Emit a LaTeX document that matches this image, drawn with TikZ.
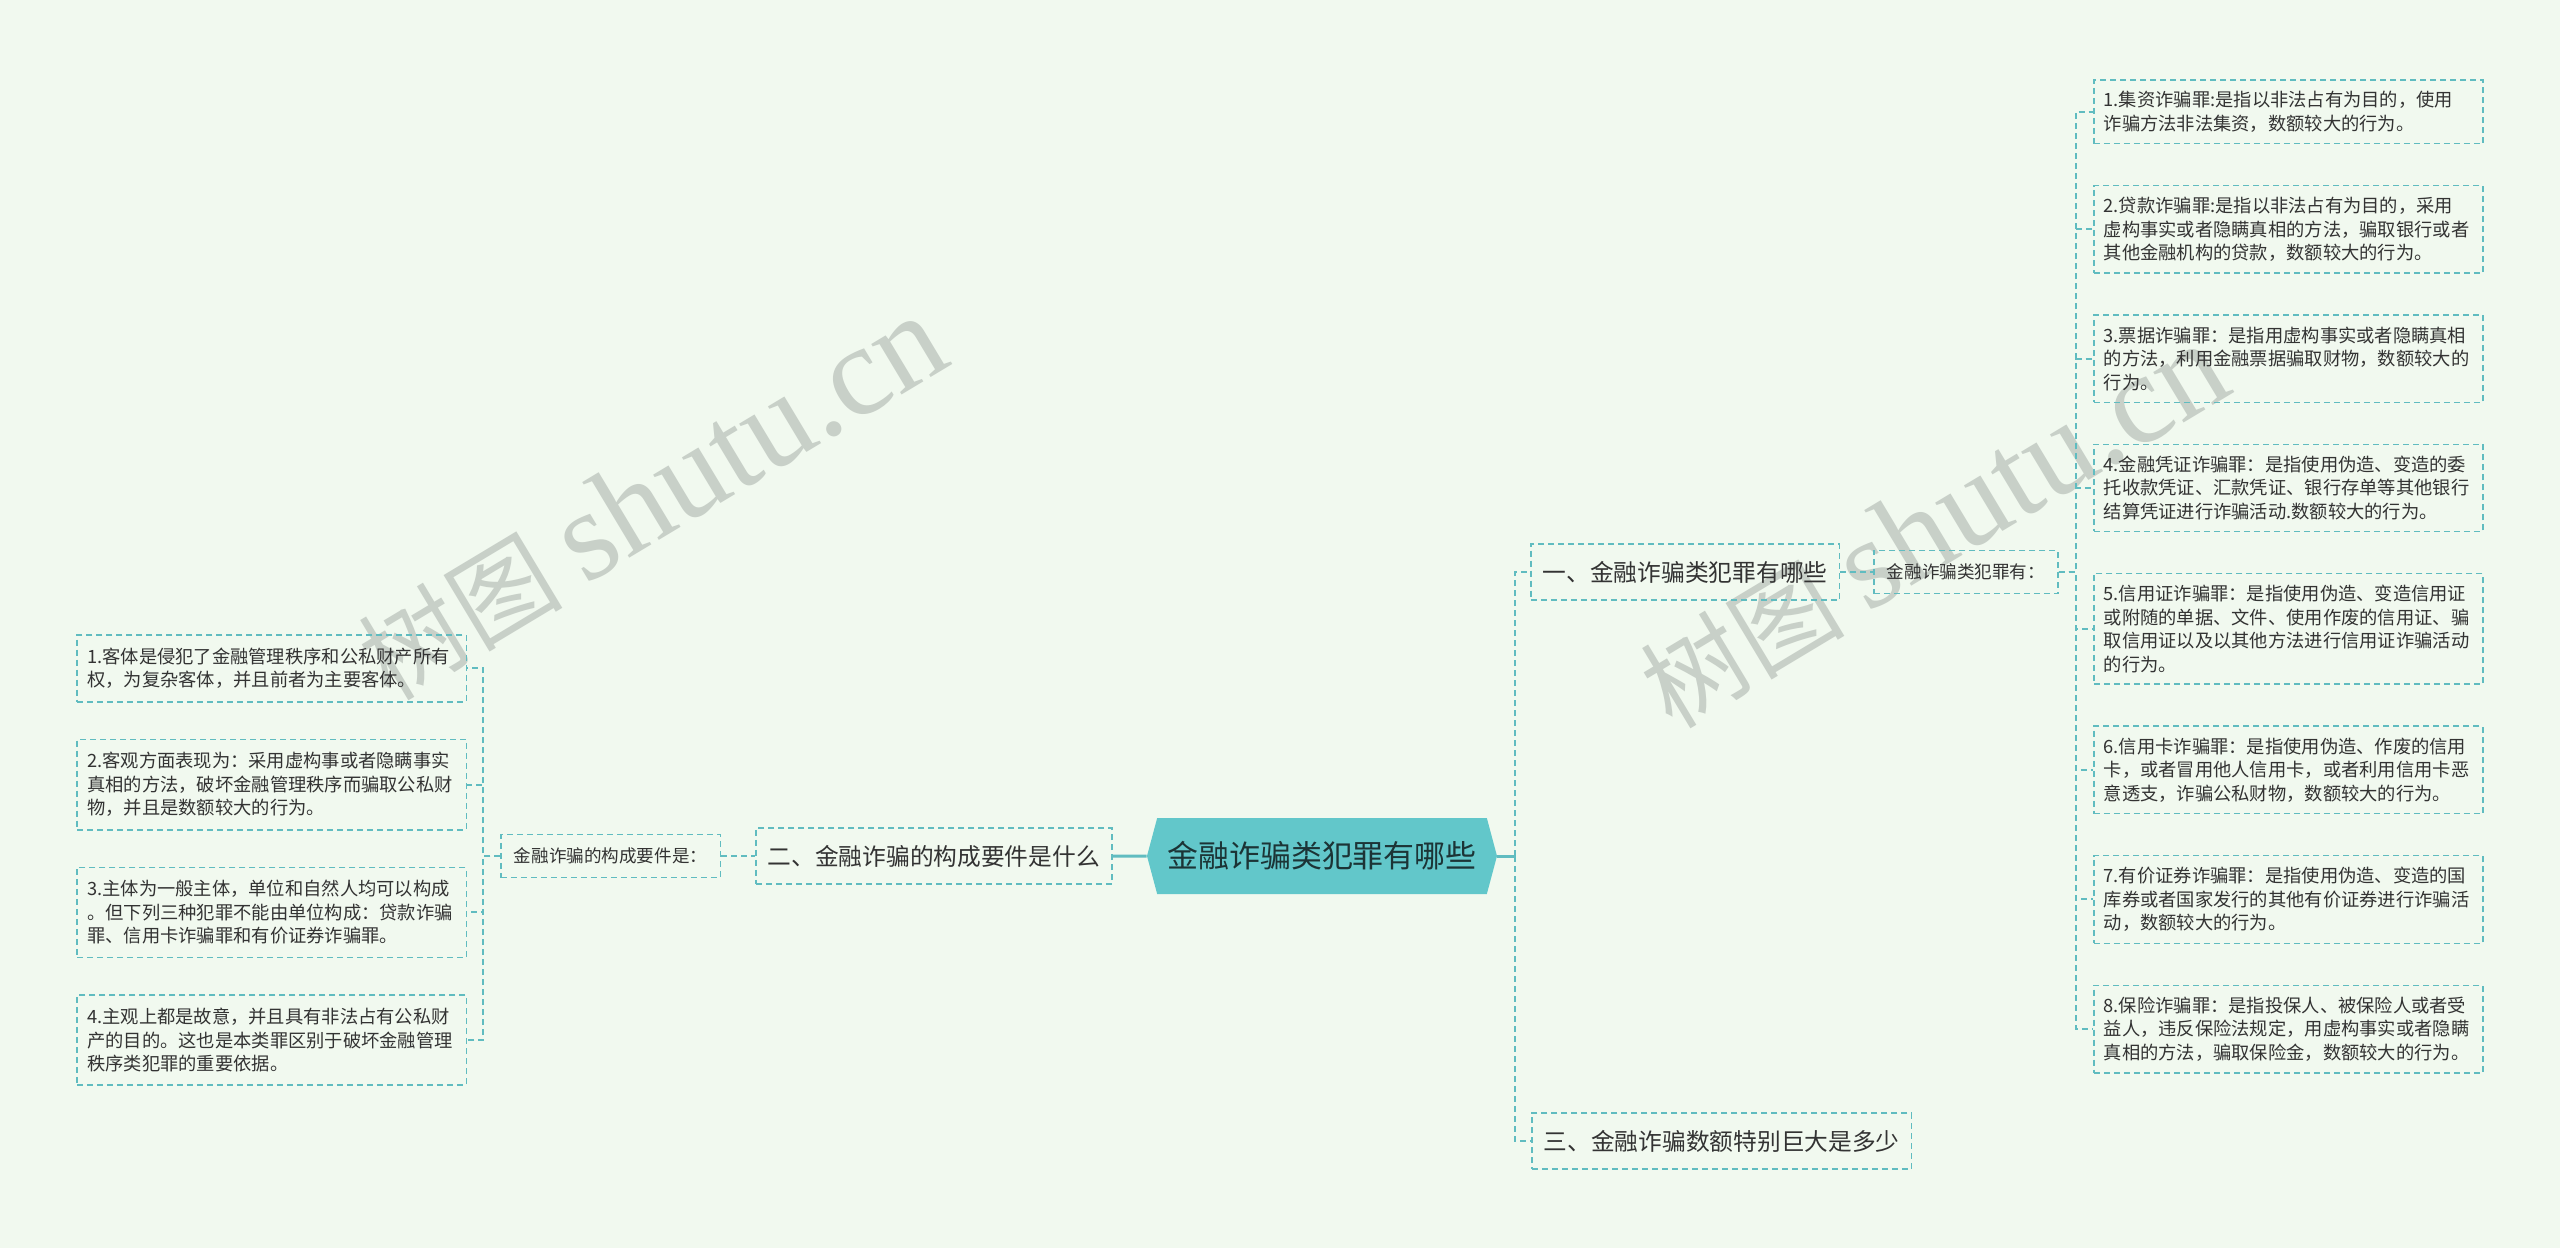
\documentclass[tikz,border=0pt]{standalone}
\usepackage{fontspec}
\newfontfamily\cjk{Noto Sans CJK SC}
\newfontfamily\wmserif{Liberation Serif}
\usepackage{tikz}
\usetikzlibrary{positioning,shapes.symbols}
\definecolor{bgc}{RGB}{241,249,239}
\definecolor{linkc}{RGB}{96,188,192}
\definecolor{rootfill}{RGB}{98,199,202}
\definecolor{rootink}{RGB}{28,52,54}
\definecolor{inkc}{RGB}{51,51,51}
\definecolor{wmc}{RGB}{200,208,200}

\begin{document}
\begin{tikzpicture}[
    x=0.2mm, y=-0.2mm,
    node distance=6.8mm and 6.8mm,
    root/.style={signal, signal to=west and east, signal pointer angle=150, fill=rootfill, text=rootink, minimum width=70mm, minimum height=15.2mm, inner sep=0pt, font=\cjk\fontsize{17.6}{20}\selectfont},
    topic/.style={draw=linkc, line width=0.3mm, dash pattern=on 1.2mm off 0.8mm, text=inkc, minimum height=11.2mm, inner xsep=2.4mm, font=\cjk\fontsize{13.5}{16}\selectfont},
    sub/.style={draw=linkc, line width=0.3mm, dash pattern=on 1.2mm off 0.8mm, text=inkc, minimum height=8.6mm, inner xsep=2.6mm, font=\cjk\fontsize{10}{12}\selectfont},
    leaf/.style={draw=linkc, line width=0.3mm, dash pattern=on 1.2mm off 0.8mm, text=inkc, text width=73.8mm, align=left, inner xsep=2mm, inner ysep=2.3mm, font=\cjk\fontsize{10.4}{13.4}\selectfont},
    leafl/.style={leaf, inner ysep=2.6mm},
    link/.style={draw=linkc, line width=0.4mm, dash pattern=on 1.2mm off 0.8mm},
    trunk/.style={draw=linkc, line width=0.6mm},
    wmark/.style={text=wmc, inner sep=0pt, rotate=31}
]
\useasboundingbox (0,0) rectangle (2560,1248);
\fill[bgc] (0,0) rectangle (2560,1248);

% watermarks
\node[wmark] (wm1) at (652,498) {\cjk\fontsize{58}{58}\selectfont 树图\ \wmserif\fontsize{73}{73}\selectfont shutu.cn};
\node[wmark] (wm2) at (1934,526) {\cjk\fontsize{58}{58}\selectfont 树图\ \wmserif\fontsize{73}{73}\selectfont shutu.cn};

% root
\node[root] (ctr) at (1322,856) {金融诈骗类犯罪有哪些};

% left branch
\node[topic, left=of ctr] (q2) {二、金融诈骗的构成要件是什么};
\node[sub, left=of q2] (req) {金融诈骗的构成要件是：};

\node[leafl, anchor=north east] (l1) at (467,634) {1.客体是侵犯了金融管理秩序和公私财产所有\\权，为复杂客体，并且前者为主要客体。};
\node[leafl, below=7.2mm of l1] (l2) {2.客观方面表现为：采用虚构事或者隐瞒事实\\真相的方法，破坏金融管理秩序而骗取公私财\\物，并且是数额较大的行为。};
\node[leafl, below=7.2mm of l2] (l3) {3.主体为一般主体，单位和自然人均可以构成\\。但下列三种犯罪不能由单位构成：贷款诈骗\\罪、信用卡诈骗罪和有价证券诈骗罪。};
\node[leafl, below=7.2mm of l3] (l4) {4.主观上都是故意，并且具有非法占有公私财\\产的目的。这也是本类罪区别于破坏金融管理\\秩序类犯罪的重要依据。};

% right branch
\node[topic, anchor=west] (q1) at (1530,572) {一、金融诈骗类犯罪有哪些};
\node[sub, right=6.6mm of q1] (has) {金融诈骗类犯罪有：};
\node[topic, anchor=west] (q3) at (1531,1141) {三、金融诈骗数额特别巨大是多少};

\node[leaf, anchor=north west] (r1) at (2093,79) {1.集资诈骗罪:是指以非法占有为目的，使用\\诈骗方法非法集资，数额较大的行为。};
\node[leaf, below=8.1mm of r1] (r2) {2.贷款诈骗罪:是指以非法占有为目的，采用\\虚构事实或者隐瞒真相的方法，骗取银行或者\\其他金融机构的贷款，数额较大的行为。};
\node[leaf, below=8.1mm of r2] (r3) {3.票据诈骗罪：是指用虚构事实或者隐瞒真相\\的方法，利用金融票据骗取财物，数额较大的\\行为。};
\node[leaf, below=8.1mm of r3] (r4) {4.金融凭证诈骗罪：是指使用伪造、变造的委\\托收款凭证、汇款凭证、银行存单等其他银行\\结算凭证进行诈骗活动.数额较大的行为。};
\node[leaf, below=8.1mm of r4] (r5) {5.信用证诈骗罪：是指使用伪造、变造信用证\\或附随的单据、文件、使用作废的信用证、骗\\取信用证以及以其他方法进行信用证诈骗活动\\的行为。};
\node[leaf, below=8.1mm of r5] (r6) {6.信用卡诈骗罪：是指使用伪造、作废的信用\\卡，或者冒用他人信用卡，或者利用信用卡恶\\意透支，诈骗公私财物，数额较大的行为。};
\node[leaf, below=8.1mm of r6] (r7) {7.有价证券诈骗罪：是指使用伪造、变造的国\\库券或者国家发行的其他有价证券进行诈骗活\\动，数额较大的行为。};
\node[leaf, below=8.1mm of r7] (r8) {8.保险诈骗罪：是指投保人、被保险人或者受\\益人，违反保险法规定，用虚构事实或者隐瞒\\真相的方法，骗取保险金，数额较大的行为。};

% connectors left
\draw[trunk] (q2) -- (ctr);
\draw[link] (req) -- (q2);
\draw[link] (req.west) -- ++(-3.4mm,0) |- (l1.east);
\draw[link] (req.west) -- ++(-3.4mm,0) |- (l2.east);
\draw[link] (req.west) -- ++(-3.4mm,0) |- (l3.east);
\draw[link] (req.west) -- ++(-3.4mm,0) |- (l4.east);

% connectors right
\draw[trunk] (ctr.east) -- ++(3.6mm,0) coordinate (hub);
\draw[link] (hub) |- (q1.west);
\draw[link] (hub) |- (q3.west);
\draw[link] (q1) -- (has);
\draw[link] (has.east) -- ++(3.4mm,0) |- (r1.west);
\draw[link] (has.east) -- ++(3.4mm,0) |- (r2.west);
\draw[link] (has.east) -- ++(3.4mm,0) |- (r3.west);
\draw[link] (has.east) -- ++(3.4mm,0) |- (r4.west);
\draw[link] (has.east) -- ++(3.4mm,0) |- (r5.west);
\draw[link] (has.east) -- ++(3.4mm,0) |- (r6.west);
\draw[link] (has.east) -- ++(3.4mm,0) |- (r7.west);
\draw[link] (has.east) -- ++(3.4mm,0) |- (r8.west);
\end{tikzpicture}
\end{document}
